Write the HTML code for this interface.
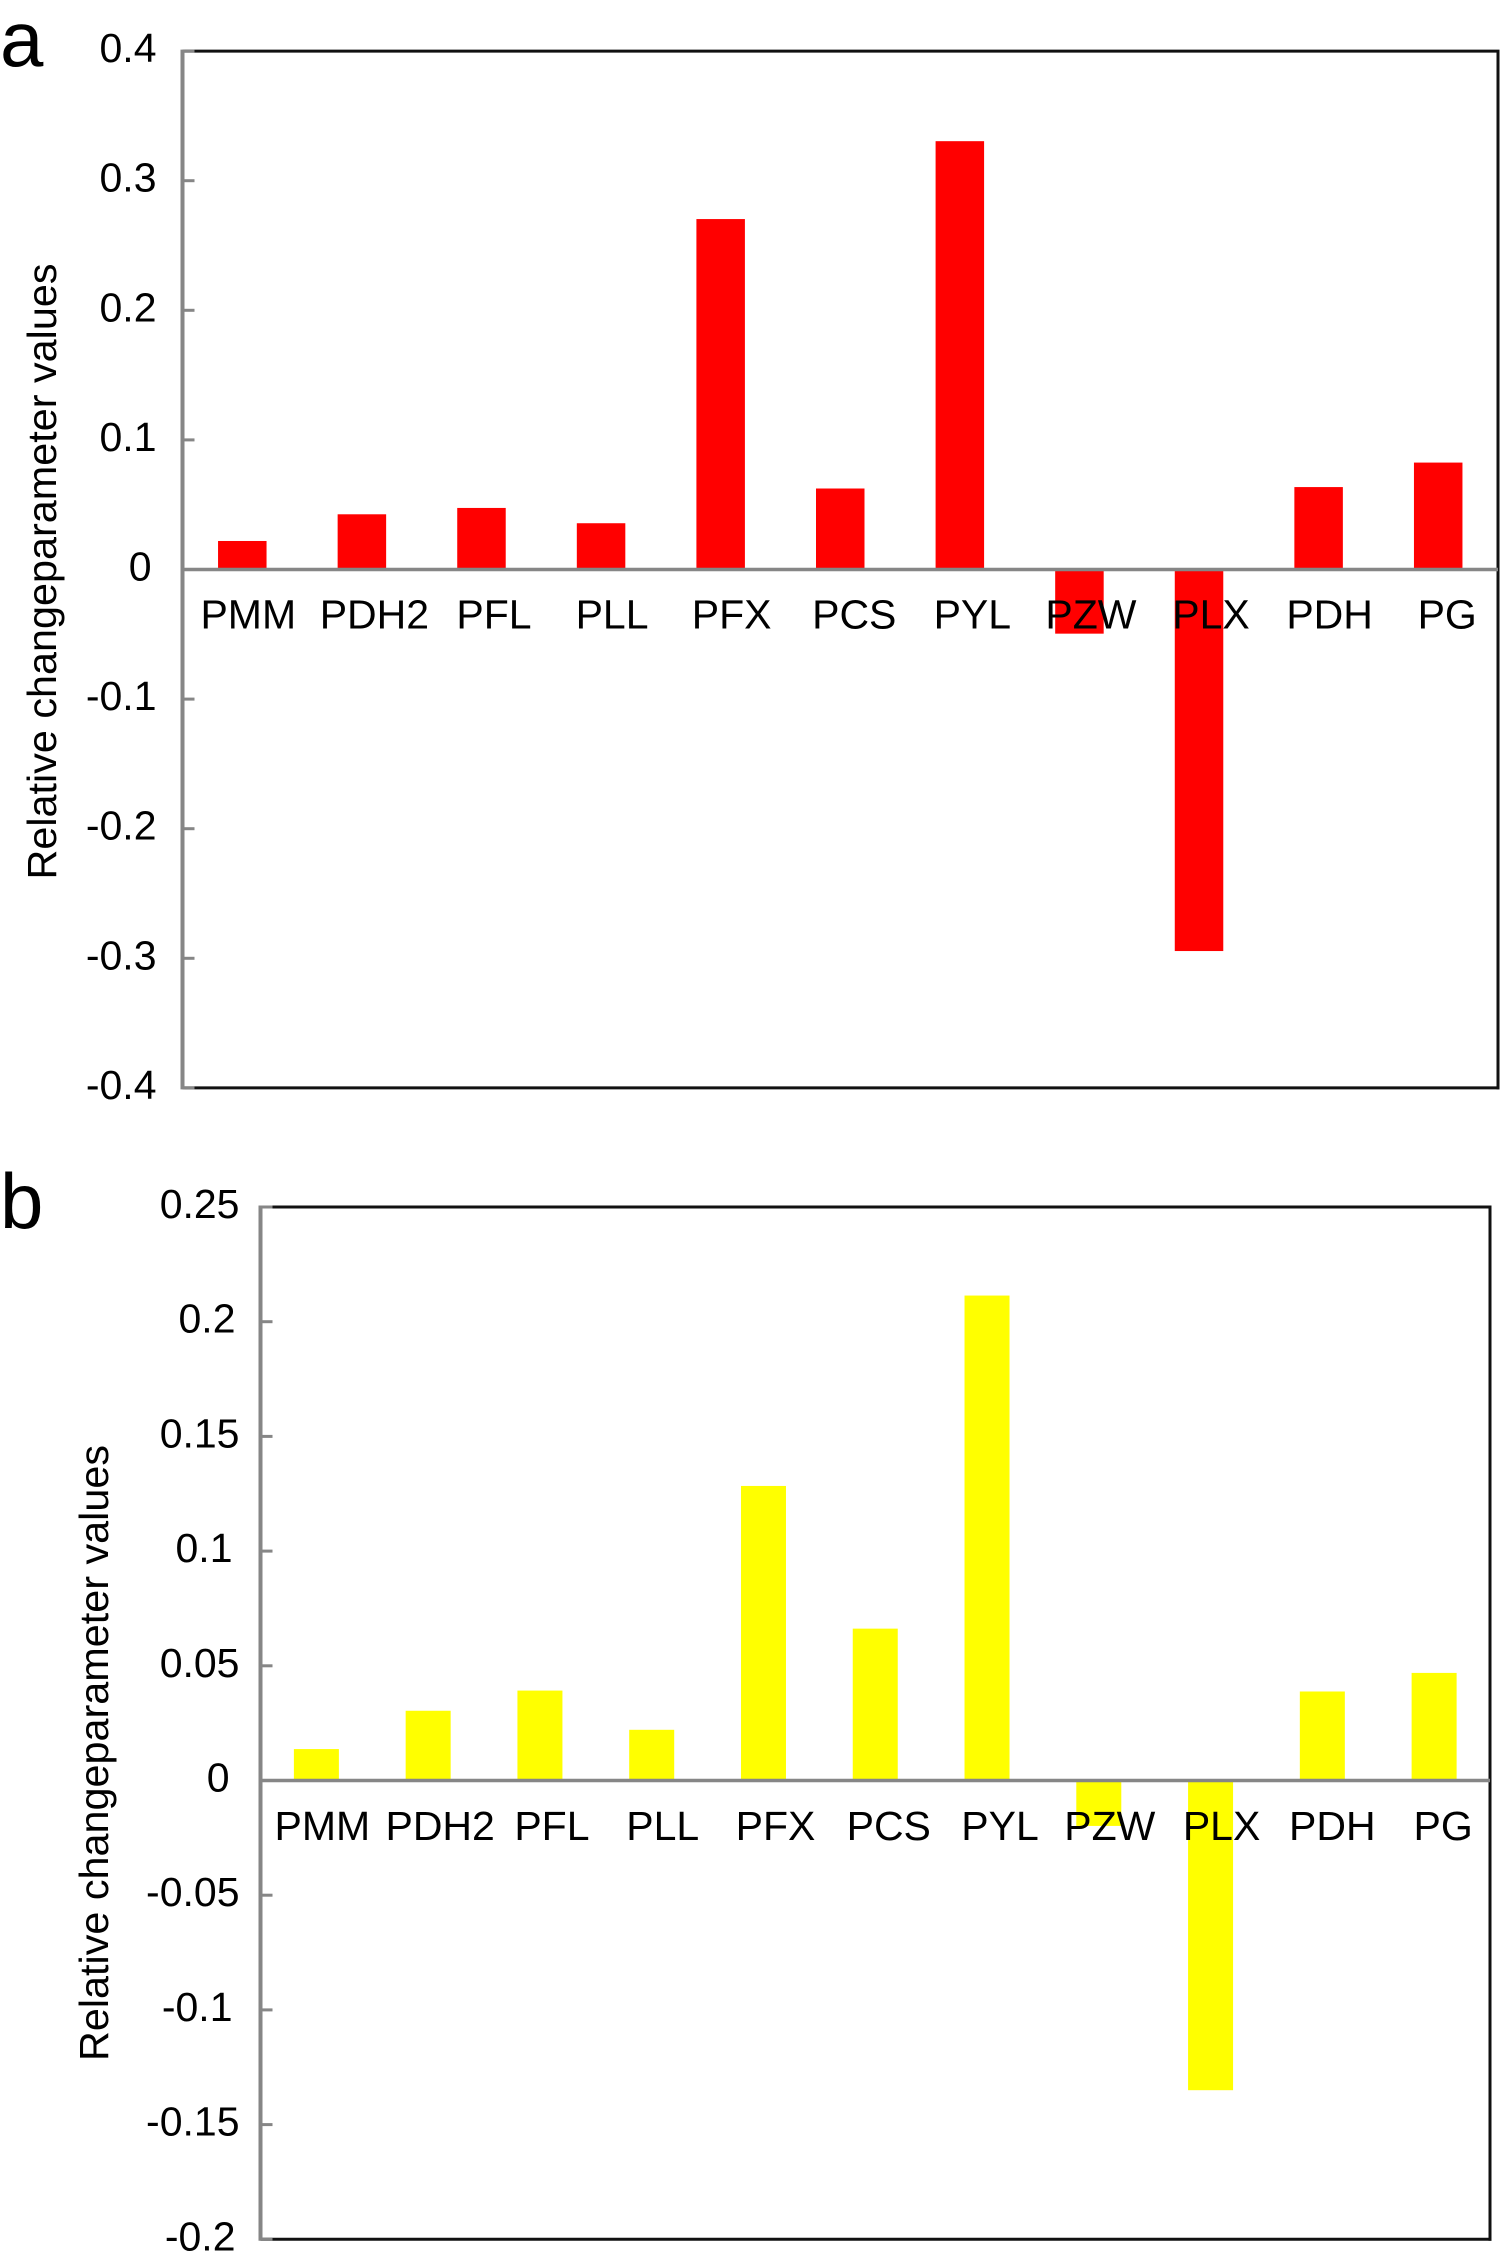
<!DOCTYPE html>
<html lang="en">
<head>
<meta charset="utf-8">
<title>Relative change parameter values</title>
<style>
html,body{margin:0;padding:0;background:#fff;}
svg{display:block;}
text{font-family:"Liberation Sans",Arial,sans-serif;fill:#000;}
</style>
</head>
<body>
<svg id="figure" xmlns="http://www.w3.org/2000/svg" width="1500" height="2259" viewBox="0 0 1500 2259">
  <rect x="0" y="0" width="1500" height="2259" fill="#ffffff"/>
  <text x="0" y="66" font-size="78">a</text>
  <text x="0" y="1228" font-size="78">b</text>
  <g id="panel-a"></g>
  <g id="panel-b"></g>
</svg>
<script>
const categories = ['PMM','PDH2','PFL','PLL','PFX','PCS','PYL','PZW','PLX','PDH','PG'];
const valuesA = [0.022,0.0426,0.0475,0.0357,0.2704,0.0625,0.3305,-0.0495,-0.2944,0.0636,0.0825];
const valuesB = [0.0137,0.0304,0.0392,0.0221,0.1284,0.0662,0.2114,-0.0198,-0.135,0.0388,0.0469];
const ticksA = [0.4,0.3,0.2,0.1,0,-0.1,-0.2,-0.3,-0.4];
const tickLabelsA = ['0.4','0.3','0.2','0.1','0','-0.1','-0.2','-0.3','-0.4'];
const ticksB = [0.25,0.2,0.15,0.1,0.05,0,-0.05,-0.1,-0.15,-0.2];
const tickLabelsB = ['0.25','0.2','0.15','0.1','0.05','0','-0.05','-0.1','-0.15','-0.2'];
const yTitle = 'Relative changeparameter values';

const NS = 'http://www.w3.org/2000/svg';
const AXIS_GREY = '#868686';

function create(parent, tag, attrs, content) {
  const node = document.createElementNS(NS, tag);
  for (const key in attrs) node.setAttribute(key, attrs[key]);
  if (content !== undefined) node.textContent = content;
  parent.appendChild(node);
  return node;
}

function drawChart(root, cfg, values, ticks, tickLabels, color, suffix) {
  const yScale = v => cfg.zeroY - v * cfg.pxPerUnit;
  const band = (cfg.right - cfg.left) / categories.length;
  const xScale = i => cfg.left + band * (i + 0.5);
  const top = yScale(ticks[0]);
  const bottom = yScale(ticks[ticks.length - 1]);

  const topLine = create(root, 'line', {x1: cfg.left, x2: cfg.right + 1.5, y1: top, y2: top, stroke: '#111', 'stroke-width': 3});
  
  
  const rightLine = create(root, 'line', {x1: cfg.right, x2: cfg.right, y1: top, y2: bottom + 1.5, stroke: '#111', 'stroke-width': 3});
  
  
  const bottomLine = create(root, 'line', {x1: cfg.left, x2: cfg.right + 1.5, y1: bottom, y2: bottom, stroke: '#111', 'stroke-width': 3});
  
  

  values.forEach((v, i) => {
    const y0 = yScale(0);
    const y1 = yScale(v);
    const bar = create(root, 'rect', {
      x: xScale(i) - cfg.barWidth / 2,
      y: Math.min(y0, y1),
      width: cfg.barWidth,
      height: Math.abs(y1 - y0),
      fill: color
    });
    
    
  });

  const yAxis = create(root, 'line', {x1: cfg.left, x2: cfg.left, y1: top - 1.5, y2: bottom + 1.5, stroke: AXIS_GREY, 'stroke-width': 4});
  
  
  const xAxis = create(root, 'line', {x1: cfg.left, x2: cfg.right, y1: yScale(0), y2: yScale(0), stroke: AXIS_GREY, 'stroke-width': 3.4});
  
  

  ticks.forEach((t, i) => {
    const mark = create(root, 'line', {x1: cfg.left, x2: cfg.left + 12, y1: yScale(t), y2: yScale(t), stroke: AXIS_GREY, 'stroke-width': 3});
    
    
    const label = create(root, 'text', {
      x: cfg.tickRight + cfg.tickNudge(tickLabels[i]),
      y: yScale(t) + 11,
      'font-size': 41,
      'text-anchor': 'end'
    }, tickLabels[i]);
    
    
  });

  categories.forEach((c, i) => {
    const label = create(root, 'text', {
      x: xScale(i) + cfg.labelNudge[i],
      y: cfg.labelBaseline,
      'font-size': 41,
      'text-anchor': 'middle'
    }, c);
    
    
  });

  const title = create(root, 'text', {
    transform: 'translate(' + cfg.titleX + ',' + cfg.titleY + ') rotate(-90)',
    x: 0,
    y: 0,
    'font-size': 41,
    'text-anchor': 'middle',
    textLength: 616,
    lengthAdjust: 'spacingAndGlyphs'
  }, yTitle);
  
  
}

drawChart(document.getElementById('panel-a'), {
  left: 182.5, right: 1498, zeroY: 569.5, pxPerUnit: 1296,
  barWidth: 48.5, tickRight: 156.5,
  tickNudge: s => (s === '0' ? -5 : 0),
  labelNudge: [6, 12.5, 12.5, 11, 11, 14, 12.5, 11.5, 12, 11, 9],
  labelBaseline: 628.5, titleX: 56, titleY: 571.5
}, valuesA, ticksA, tickLabelsA, '#ff0000', 'a');

drawChart(document.getElementById('panel-b'), {
  left: 260.5, right: 1490, zeroY: 1780.5, pxPerUnit: 2294,
  barWidth: 45, tickRight: 239.5,
  tickNudge: s => (s === '0' ? -10 : (s.length === 3 || s === '-0.2') ? (s.endsWith('1') ? -7 : -4) : (s === '-0.1' ? -7 : 0)),
  labelNudge: [6, 12, 12, 11, 12, 13.5, 13, 11, 11, 10, 9],
  labelBaseline: 1840, titleX: 108, titleY: 1753
}, valuesB, ticksB, tickLabelsB, '#ffff00', 'b');
</script>
</body>
</html>
